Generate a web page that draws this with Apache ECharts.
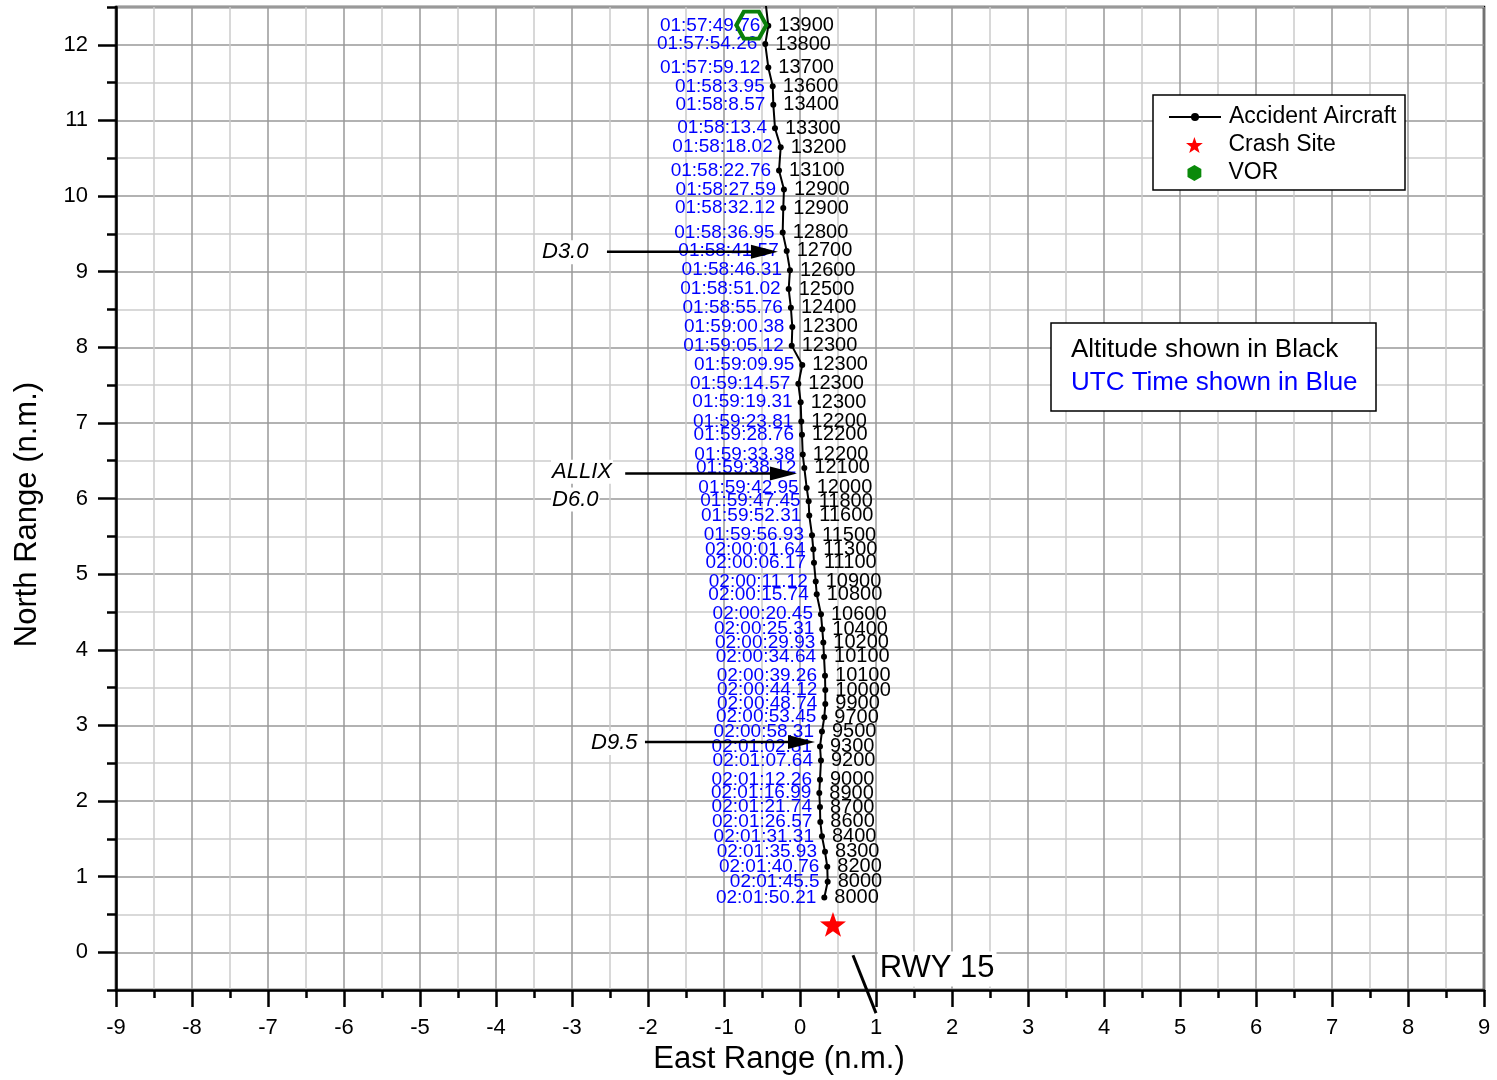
<!DOCTYPE html>
<html>
<head>
<meta charset="utf-8">
<script src="https://cdn.jsdelivr.net/npm/echarts@6/dist/echarts.min.js"></script>
<style>
html, body { margin: 0; padding: 0; background: #fff; }
#divChart { width: 1497px; height: 1080px; }
</style>
</head>
<body>
<div id="divChart"></div>
<script>
/** 航迹数据 (n.m.)，第一个点在图框外，只用于画出顶部延伸的线 */
var trackX = [-0.475, -0.417, -0.457, -0.417, -0.359, -0.351, -0.329, -0.254, -0.276, -0.211, -0.220,
  -0.228, -0.175, -0.132, -0.149, -0.120, -0.101, -0.109, 0.030, -0.022, 0.009,
  0.017, 0.026, 0.036, 0.057, 0.088, 0.114, 0.122, 0.158, 0.175, 0.184,
  0.207, 0.220, 0.276, 0.293, 0.307, 0.316, 0.329, 0.333, 0.333, 0.320,
  0.289, 0.263, 0.276, 0.263, 0.254, 0.263, 0.267, 0.289, 0.329, 0.359,
  0.364, 0.320];
var trackY = [12.75, 12.251, 12.010, 11.701, 11.451, 11.209, 10.897, 10.646, 10.339, 10.088, 9.842,
  9.517, 9.275, 9.020, 8.770, 8.523, 8.269, 8.022, 7.767, 7.517, 7.275,
  7.020, 6.844, 6.581, 6.405, 6.141, 5.965, 5.776, 5.516, 5.328, 5.152,
  4.902, 4.734, 4.471, 4.273, 4.097, 3.907, 3.657, 3.468, 3.284, 3.108,
  2.918, 2.721, 2.536, 2.281, 2.106, 1.921, 1.724, 1.534, 1.328, 1.130,
  0.932, 0.725];
var utcTimes = ['', '01:57:49.76', '01:57:54.26', '01:57:59.12', '01:58:3.95', '01:58:8.57', '01:58:13.4',
  '01:58:18.02', '01:58:22.76', '01:58:27.59', '01:58:32.12', '01:58:36.95', '01:58:41.57',
  '01:58:46.31', '01:58:51.02', '01:58:55.76', '01:59:00.38', '01:59:05.12', '01:59:09.95',
  '01:59:14.57', '01:59:19.31', '01:59:23.81', '01:59:28.76', '01:59:33.38', '01:59:38.12',
  '01:59:42.95', '01:59:47.45', '01:59:52.31', '01:59:56.93', '02:00:01.64', '02:00:06.17',
  '02:00:11.12', '02:00:15.74', '02:00:20.45', '02:00:25.31', '02:00:29.93', '02:00:34.64',
  '02:00:39.26', '02:00:44.12', '02:00:48.74', '02:00:53.45', '02:00:58.31', '02:01:02.81',
  '02:01:07.64', '02:01:12.26', '02:01:16.99', '02:01:21.74', '02:01:26.57', '02:01:31.31',
  '02:01:35.93', '02:01:40.76', '02:01:45.5', '02:01:50.21'];
var altitudes = ['', '13900', '13800', '13700', '13600', '13400', '13300', '13200', '13100', '12900', '12900',
  '12800', '12700', '12600', '12500', '12400', '12300', '12300', '12300', '12300', '12300',
  '12200', '12200', '12200', '12100', '12000', '11800', '11600', '11500', '11300', '11100',
  '10900', '10800', '10600', '10400', '10200', '10100', '10100', '10000', '9900', '9700',
  '9500', '9300', '9200', '9000', '8900', '8700', '8600', '8400', '8300', '8200',
  '8000', '8000'];
var crashSite = [0.434, 0.369];
var vorSite = [-0.64, 12.26];
var yTicks = [0, 1, 2, 3, 4, 5, 6, 7, 8, 9, 10, 11, 12];

/** 标注：箭头 (数据坐标) */
var arrows = [
  { from: [-2.54, 9.265], to: [-0.29, 9.265] },
  { from: [-2.30, 6.33], to: [-0.04, 6.33] },
  { from: [-2.04, 2.782], to: [0.197, 2.782] }
];
var notes = [
  { text: 'D3.0', at: [-3.408, 9.258] },
  { text: 'ALLIX', at: [-3.276, 6.356] },
  { text: 'D6.0', at: [-3.276, 5.987] },
  { text: 'D9.5', at: [-2.763, 2.769] }
];
var runway = { from: [0.697, -0.04], to: [1.0, -0.805], label: 'RWY 15', at: [1.022, -0.22] };

var FONT = 'Liberation Sans, Arial, sans-serif';
var starPath = 'path://M0,-1L0.235,-0.324L0.951,-0.309L0.38,0.124L0.588,0.809L0,0.4L-0.588,0.809L-0.38,0.124L-0.951,-0.309L-0.235,-0.324Z';
var hexPath = 'path://M-1,0L-0.5,-0.866L0.5,-0.866L1,0L0.5,0.866L-0.5,0.866Z';
var hexUpPath = 'path://M0,-1L0.866,-0.5L0.866,0.5L0,1L-0.866,0.5L-0.866,-0.5Z';

var trackData = [];
for (var i = 0; i < trackX.length; i++) {
  trackData.push([trackX[i], trackY[i]]);
}

var divChart = echarts.init(document.getElementById('divChart'));

var option = {
  animation: false,
  backgroundColor: '#fff',
  grid: {
    left: 116, top: 7, width: 1368, height: 986,
    show: true, borderColor: '#000', borderWidth: 2.5
  },
  legend: [{
    data: ['Accident Aircraft'],
    orient: 'vertical', left: 1168, top: 105, padding: 0,
    itemWidth: 52, itemHeight: 10,
    textStyle: { fontSize: 23, color: '#000', fontFamily: FONT, lineHeight: 24, padding: [0, 0, 0, 3] },
    z: 100
  }, {
    data: [
      { name: 'Crash Site', icon: starPath, itemStyle: { color: '#ff0000', opacity: 1 } },
      { name: 'VOR', icon: hexUpPath, itemStyle: { color: '#0a8a0a', borderWidth: 0, opacity: 1 } }
    ],
    orient: 'vertical', left: 1186, top: 133, padding: 0,
    itemWidth: 52, itemHeight: 16, itemGap: 4,
    textStyle: { fontSize: 23, color: '#000', fontFamily: FONT, lineHeight: 24, padding: [0, 0, 0, 3] },
    z: 100
  }],
  xAxis: {
    type: 'value', min: -9, max: 9, interval: 1, position: 'bottom',
    axisLine: { show: true, onZero: false, lineStyle: { color: '#000', width: 2.5 } },
    axisTick: { show: true, length: 17, lineStyle: { color: '#000', width: 2.5 } },
    minorTick: { show: true, splitNumber: 2, length: 8, lineStyle: { color: '#000', width: 2.5 } },
    splitLine: { show: true, lineStyle: { color: '#999', width: 1.5 } },
    minorSplitLine: { show: true, lineStyle: { color: '#cccccc', width: 1.5 } },
    axisLabel: { fontSize: 22, color: '#000', fontFamily: FONT, margin: 27 },
    name: 'East Range (n.m.)', nameLocation: 'middle', nameGap: 52,
    nameTextStyle: { fontSize: 31, color: '#000', fontFamily: FONT, padding: [0, 42, 0, 0] }
  },
  yAxis: [{
    type: 'value', position: 'left', min: -0.5, max: 12.5, interval: 0.5,
    axisLine: { show: true, onZero: false, lineStyle: { color: '#000', width: 2.5 } },
    axisTick: { show: true, length: 9, lineStyle: { color: '#000', width: 2.5 } },
    axisLabel: { show: false },
    splitLine: { show: true, lineStyle: { color: ['#cccccc', '#999'], width: 1.5 } }
  }, {
    type: 'value', position: 'left', min: -0.5, max: 12.5,
    axisLine: { show: false, onZero: false },
    axisTick: { show: true, length: 18, customValues: yTicks, lineStyle: { color: '#000', width: 2.5 } },
    axisLabel: { show: true, customValues: yTicks, fontSize: 22, color: '#000', fontFamily: FONT, margin: 28 },
    splitLine: { show: false },
    name: 'North Range (n.m.)', nameLocation: 'middle', nameGap: 73,
    nameTextStyle: { fontSize: 31, color: '#000', fontFamily: FONT, padding: [0, 32, 0, 0] }
  }],
  series: [{
    name: 'Accident Aircraft',
    type: 'line',
    data: trackData,
    symbol: 'circle', symbolSize: 6,
    lineStyle: { color: '#000', width: 2 },
    itemStyle: { color: '#000', opacity: 1 },
    label: {
      show: true, position: 'left', distance: 5,
      color: '#0000ff', fontSize: 19, fontFamily: FONT,
      formatter: function (p) { return utcTimes[p.dataIndex]; }
    },
    z: 3
  }, {
    name: 'altitude',
    type: 'scatter',
    data: trackData,
    symbolSize: 1,
    itemStyle: { color: 'rgba(0,0,0,0)', opacity: 1 },
    silent: true,
    label: {
      show: true, position: 'right', distance: 9.5, opacity: 1,
      color: '#000', fontSize: 20, fontFamily: FONT,
      formatter: function (p) { return altitudes[p.dataIndex]; }
    },
    z: 3
  }, {
    name: 'Crash Site',
    type: 'scatter',
    data: [crashSite],
    symbol: starPath, symbolSize: 26, symbolKeepAspect: true,
    itemStyle: { color: '#ff0000', opacity: 1 },
    z: 4
  }, {
    name: 'VOR',
    type: 'scatter',
    data: [vorSite],
    symbol: hexPath, symbolSize: [30, 27],
    itemStyle: { color: 'rgba(0,0,0,0)', borderColor: '#0a7f0a', borderWidth: 4, opacity: 1 },
    z: 4
  }]
};

divChart.setOption(option);

/**
 * 标注层：箭头、文字、跑道线、图例框和说明框
 */
function buildGraphic() {
  var g = [];
  var px = function (v) { return divChart.convertToPixel({ gridIndex: 0 }, v); };
  for (var i = 0; i < arrows.length; i++) {
    var p0 = px(arrows[i].from);
    var p1 = px(arrows[i].to);
    g.push({ type: 'line', z: 10,
      shape: { x1: p0[0], y1: p0[1], x2: p1[0] - 22, y2: p1[1] },
      style: { stroke: '#000', lineWidth: 2.5 } });
    g.push({ type: 'polygon', z: 10,
      shape: { points: [[p1[0], p1[1]], [p1[0] - 27, p1[1] - 7], [p1[0] - 27, p1[1] + 7]] },
      style: { fill: '#000' } });
  }
  for (var j = 0; j < notes.length; j++) {
    var q = px(notes[j].at);
    g.push({ type: 'text', z: 10, x: q[0], y: q[1],
      style: { text: notes[j].text, font: 'italic 22px ' + FONT, fill: '#000',
        align: 'left', verticalAlign: 'middle', backgroundColor: '#fff', padding: [1, 1] } });
  }
  var r0 = px(runway.from), r1 = px(runway.to), rl = px(runway.at);
  g.push({ type: 'line', z: 10,
    shape: { x1: r0[0], y1: r0[1], x2: r1[0], y2: r1[1] },
    style: { stroke: '#000', lineWidth: 3 } });
  g.push({ type: 'text', z: 10, x: rl[0], y: rl[1],
    style: { text: runway.label, font: '31px ' + FONT, fill: '#000',
      align: 'left', verticalAlign: 'middle', backgroundColor: '#fff', padding: [2, 2] } });

  // 图例外框
  g.push({ type: 'rect', z: 90, shape: { x: 1153, y: 95, width: 252, height: 95 },
    style: { fill: '#fff', stroke: '#000', lineWidth: 1.5 } });
  // 说明框
  g.push({ type: 'rect', z: 10, shape: { x: 1051, y: 323, width: 325, height: 88 },
    style: { fill: '#fff', stroke: '#000', lineWidth: 1.5 } });
  g.push({ type: 'text', z: 11, x: 1071, y: 350,
    style: { text: 'Altitude shown in Black', font: '26px ' + FONT, fill: '#000', verticalAlign: 'middle' } });
  g.push({ type: 'text', z: 11, x: 1071, y: 383,
    style: { text: 'UTC Time shown in Blue', font: '26px ' + FONT, fill: '#0000ff', verticalAlign: 'middle' } });
  return g;
}

divChart.setOption({ graphic: buildGraphic() });
</script>
</body>
</html>
